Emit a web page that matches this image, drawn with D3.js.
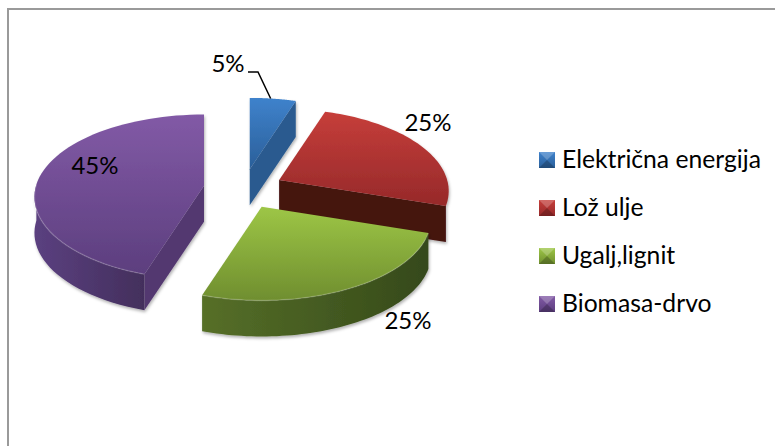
<!DOCTYPE html>
<html><head><meta charset="utf-8">
<script src="https://cdn.jsdelivr.net/npm/d3@7"></script>
<style>html,body{margin:0;padding:0;background:#fff}svg{display:block}text{font-family:Lato,sans-serif;fill:#000}</style>
</head><body><svg id="c" width="775" height="446"></svg>
<script>
const categories = ["Električna energija","Lož ulje","Ugalj,lignit","Biomasa-drvo"];
const values = [5,25,25,45];
const percentLabels = ["5%","25%","25%","45%"];
const topColors = [["#3f82cc","#2a5f99"],["#c63e3a","#96292a"],["#9dc646","#6f8e2f"],["#825aa6","#5c3e7e"]];
const rimColors = [["#2d6299","#1d4a78"],["#461410","#461410"],["#566f28","#35491a"],["#5b4080","#432f5c"]];
const radialColors = ["#2a5a8f","#44130f","#4f6a25","#533870"];

const W=775,H=446,cx=243.5,cy=189,R=168,ky=81/168,persp=0.135,explode=40,depth=36;
const svg=d3.select("#c");
const defs=svg.append("defs");
defs.append("filter").attr("id","sh").attr("x","-10%").attr("y","-10%").attr("width","120%").attr("height","120%")
  .append("feDropShadow").attr("dx",1).attr("dy",2).attr("stdDeviation",1.6).attr("flood-color","#000").attr("flood-opacity",0.3);
function grad(id,c,x2,y2){const g=defs.append("linearGradient").attr("id",id).attr("x1",0).attr("y1",0).attr("x2",x2).attr("y2",y2);
  g.append("stop").attr("offset",0).attr("stop-color",c[0]);g.append("stop").attr("offset",1).attr("stop-color",c[1]);}
topColors.forEach((c,i)=>grad("top"+i,c,0,1));
rimColors.forEach((c,i)=>grad("rim"+i,c,1,0));

svg.append("rect").attr("x",8).attr("y",9).attr("width",W).attr("height",H).attr("fill","#fff").attr("stroke","#9a9a9a").attr("stroke-width",2);

const arcs=d3.pie().sort(null).value(d=>d)(values);
function project(a,rho,mid,dz){
  const X=rho*Math.sin(a),Y=-rho*Math.cos(a),s=1/(1-persp*Y);
  return [cx+explode*Math.sin(mid)+R*X*s, cy-(explode/2)*Math.cos(mid)+R*ky*Y*s+dz];
}
const line=d3.line();
[3,0,1,2].forEach(i=>{
  const d=arcs[i],mid=(d.startAngle+d.endAngle)/2,n=60;
  const as=d3.range(n+1).map(k=>d.startAngle+(d.endAngle-d.startAngle)*k/n);
  const g=svg.append("g").attr("filter","url(#sh)");
  const apex=project(0,0,mid,0),apexB=project(0,0,mid,depth);
  const wall=a=>{const p=project(a,1,mid,0),q=project(a,1,mid,depth);
    return line([apex,p,q,apexB])+"Z";};
  if(i===3) g.append("path").attr("d",wall(d.startAngle)).attr("fill",radialColors[i]);
  if(i===0||i===1) g.append("path").attr("d",wall(d.endAngle)).attr("fill",radialColors[i]);
  const vis=i===1?[]:as.filter(a=>Math.cos(a)<=0.02);
  if(vis.length>1){
    const up=vis.map(a=>project(a,1,mid,0)),dn=vis.map(a=>project(a,1,mid,depth)).reverse();
    g.append("path").attr("d",line(up.concat(dn))+"Z").attr("fill",`url(#rim${i})`);
  }
  const rim=as.map(a=>project(a,1,mid,0));
  g.append("path").attr("d",line([apex].concat(rim))+"Z").attr("fill",`url(#top${i})`);
  if(vis.length>1) g.append("path").attr("d",line(vis.map(a=>project(a,1,mid,0)))).attr("fill","none").attr("stroke","#fff").attr("stroke-opacity",0.16).attr("stroke-width",1.5);
});

const lm=(arcs[0].startAngle+arcs[0].endAngle)/2;
const leadEnd=project(lm*0.9,1,lm,0);
svg.append("path").attr("d",line([[248,72],[258,72],leadEnd])).attr("fill","none").attr("stroke","#000").attr("stroke-width",1.5);

const labelPos=[[228,72],[428,131],[408,329],[95,174]];
percentLabels.forEach((t,i)=>svg.append("text").attr("x",labelPos[i][0]).attr("y",labelPos[i][1]).attr("text-anchor","middle").attr("font-size",24).text(t));

const legendY=d3.scalePoint().domain(categories).range([160,304]);
const lg=svg.append("g").selectAll("g").data(categories).join("g").attr("transform",d=>`translate(539,${legendY(d)})`);
lg.append("rect").attr("y",-8).attr("width",16).attr("height",16).attr("fill",(d,i)=>`url(#top${i})`);
lg.append("path").attr("d","M0,-8H16L8,0Z").attr("fill","#fff").attr("fill-opacity",0.22);
lg.append("path").attr("d","M0,8H16L8,0Z").attr("fill","#000").attr("fill-opacity",0.22);
lg.append("text").attr("x",23).attr("y",8).attr("font-size",24.7).text(d=>d);
</script></body></html>
